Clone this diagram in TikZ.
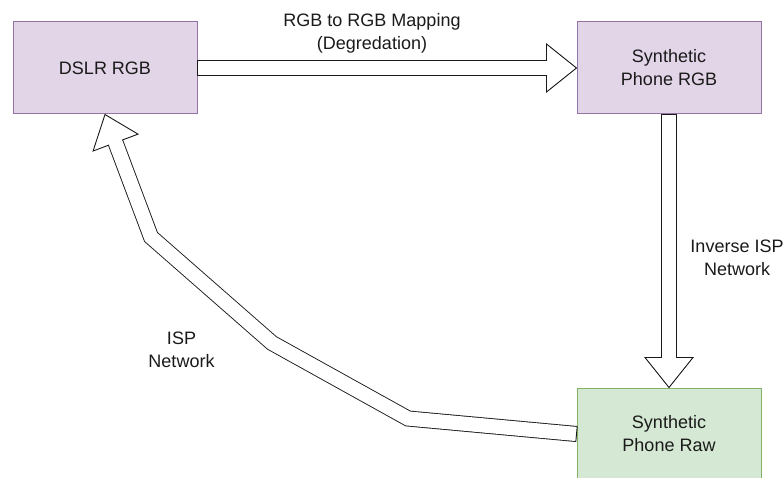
\documentclass[tikz,border=0pt]{standalone}
\usepackage{fontspec}
\setmainfont{Liberation Sans}
\usetikzlibrary{calc}

\definecolor{rgbfill}{HTML}{E1D5E7}
\definecolor{rgbline}{HTML}{9673A6}
\definecolor{rawfill}{HTML}{D5E8D4}
\definecolor{rawline}{HTML}{82B366}
\definecolor{ink}{HTML}{1A1A1A}

\tikzset{
  stage/.style={draw, line width=1pt, minimum width=184pt, minimum height=92pt,
    inner sep=0pt, align=center, font=\fontsize{18}{23}\selectfont, text=ink},
  rgbstage/.style={stage, draw=rgbline, fill=rgbfill},
  rawstage/.style={stage, draw=rawline, fill=rawfill},
  shaft/.style={draw=ink, line width=0.9pt, double=white, double distance=14.2pt, line join=miter},
  outline/.style={draw=ink, line width=0.9pt, line join=miter},
  edgelabel/.style={inner sep=0pt, align=center, font=\fontsize{18}{23}\selectfont, text=ink},
}

% hollow block-arrow head: #1 = tip, #2 = point the shaft comes from
\newcommand\drawopenhead[2]{%
  \coordinate (hb) at ($(#1)!30pt!(#2)$);
  \draw[outline, fill=white] ($(hb)!24pt!90:(#1)$) -- (#1) -- ($(hb)!24pt!-90:(#1)$) -- cycle;
  \draw[white, line width=13.4pt] ($(hb)!1pt!(#2)$) -- ($(hb)!-2pt!(#2)$);
}
% closing stroke across the tail of a shaft: #1 = tail, #2 = next point
\newcommand\drawshafttail[2]{%
  \draw[outline, line cap=square] ($(#1)!7.55pt!90:(#2)$) -- ($(#1)!7.55pt!-90:(#2)$);
}

\begin{document}
\begin{tikzpicture}[x=1pt, y=-1pt]
  \useasboundingbox (0,0) rectangle (783,478);

  % processing stages
  \node[rgbstage] (dslr) at (105,68)  {DSLR RGB};
  \node[rgbstage] (prgb) at (669,68)  {Synthetic\\Phone RGB};
  \node[rawstage] (raw)  at (669,434) {Synthetic\\Phone Raw};

  % bends of the ISP path
  \coordinate (k1) at (408,418.5);
  \coordinate (k2) at (272,343);
  \coordinate (k3) at (151,237);

  % degradation: DSLR RGB -> synthetic phone RGB
  \draw[shaft] (dslr.east) -- ($(prgb.west)!30pt!(dslr.east)$);
  \drawshafttail{dslr.east}{prgb.west}
  \drawopenhead{prgb.west}{dslr.east}

  % inverse ISP: synthetic phone RGB -> synthetic phone raw
  \draw[shaft] (prgb.south) -- ($(raw.north)!30pt!(prgb.south)$);
  \drawshafttail{prgb.south}{raw.north}
  \drawopenhead{raw.north}{prgb.south}

  % ISP: synthetic phone raw -> DSLR RGB
  \draw[shaft] (raw.west) -- (k1) -- (k2) -- (k3) -- ($(dslr.south)!30pt!(k3)$);
  \drawshafttail{raw.west}{k1}
  \drawopenhead{dslr.south}{k3}

  % arrow labels
  \node[edgelabel] (lmap) at (372,33)  {RGB to RGB Mapping\\(Degredation)};
  \node[edgelabel] (linv) at (737,258) {Inverse ISP\\Network};
  \node[edgelabel] (lisp) at (181.5,350) {ISP\\Network};
\end{tikzpicture}
\end{document}
